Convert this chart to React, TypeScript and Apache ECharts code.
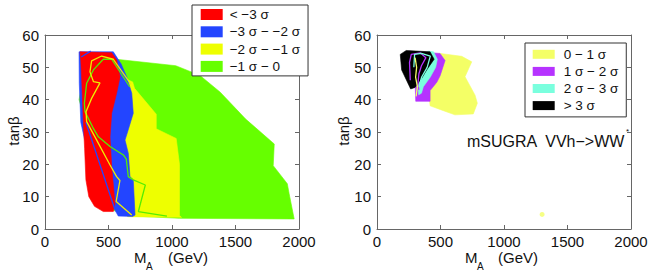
import React, { useEffect, useRef } from "react";
import * as echarts from "echarts";

const FONT = '"Liberation Sans", Arial, Helvetica, sans-serif';

// axis ranges / ticks
const xRange = [0, 2000];
const xInterval = 500;
const yRange = [0, 60];
const yInterval = 10;

// legend names
const leftNames = ["< −3 σ", "−3 σ − −2 σ", "−2 σ − −1 σ", "−1 σ − 0"];
const rightNames = ["0 − 1 σ", "1 σ − 2 σ", "2 σ − 3 σ", "> 3 σ"];

// Left panel regions [M_A, tanβ]
const leftGreen = [
  [268, 40], [300, 47], [330, 52.8], [560, 52.5], [1030, 50.5], [1220, 47.5], [1380, 42.3],
  [1580, 34], [1805, 26.3], [1797, 19.6], [1908, 14], [1922, 11], [1962, 3.1], [1060, 3.3],
  [700, 4], [420, 7], [340, 25], [320, 33],
];
const leftYellow = [
  [600, 47], [690, 45.5], [705, 43.5], [876, 35.5], [876, 31], [1033, 28], [1059, 20],
  [1059, 4.2], [1075, 3.6], [650, 3.8], [600, 10], [580, 30],
];
const leftBlue = [
  [268, 54.8], [538, 54.8], [600, 51], [643, 47.1], [683, 42], [695, 35.8], [650, 30],
  [630, 27.5], [656, 23.4], [669, 16.2], [695, 15.2], [709, 4.3], [690, 3.9], [577, 4],
  [520, 8], [310, 28], [282, 33], [270, 45],
];
const leftRed = [
  [276, 54.8], [525, 54.5], [564, 52.3], [591, 47.1], [564, 42], [525, 35.8], [512, 28.5],
  [525, 19.3], [551, 8], [538, 5.4], [459, 5.4], [390, 7], [345, 10], [322, 15.2],
  [312, 24.8], [300, 34.7], [290, 45], [282, 52],
];
const leftYellowLine = [
  [677, 44.7], [538, 52.5], [446, 53.5], [367, 52], [354, 48.6], [381, 45.6], [433, 45.2],
  [367, 40.4], [323, 36.3], [328, 33.2], [407, 27.5], [512, 19.8], [564, 16.2], [590, 15],
  [560, 8.5], [683, 4.3],
];
const leftGreenLine = [
  [667, 44], [525, 52.5], [459, 52.5], [381, 49.2], [328, 45.1], [310, 38.9], [315, 36.3],
  [381, 31.1], [420, 28.5], [512, 25.5], [617, 22.9], [640, 21.6], [656, 16.2], [695, 15.2],
  [790, 13.6], [735, 5.4], [960, 4],
];
const leftBlueLine = [[322, 33], [549, 6.2]];
const leftBlueLine2 = [[285, 53.2], [360, 55]];

// Right panel regions
const rightYellow = [
  [330, 54], [496, 54.3], [667, 53.4], [746, 51.7], [693, 47.1], [772, 41.4], [790, 38.9],
  [758, 35.6], [614, 35.3], [523, 36.6], [418, 38.1], [400, 45],
];
const rightPurple = [
  [250, 55], [496, 54.3], [536, 52.1], [497, 47.4], [471, 45.4], [418, 42.8], [418, 39.5],
  [305, 39.5], [300, 45], [260, 50],
];
const rightCyan = [
  [400, 55], [445, 54.8], [475, 52.5], [462, 50], [420, 47], [365, 44], [350, 42],
  [328, 41.5], [325, 44], [340, 46],
];
const rightBlack = [
  [183, 54], [230, 55.2], [418, 54.8], [450, 52.5], [391, 49.2], [352, 46.6], [300, 43.8],
  [265, 43.3], [194, 49.2],
];
const rightPurpleLine = [
  [262, 46], [256, 51.5], [270, 54], [340, 54.5], [385, 53], [350, 50.5], [330, 48],
  [322, 45], [330, 43],
];
const rightCyanLine = [
  [290, 50], [296, 54], [350, 54.3], [420, 53.5], [395, 50], [352, 47], [330, 44],
];
const rightYellowLine = [[300, 53], [312, 50], [304, 47], [318, 44], [308, 41]];
const rightDot = [[1300, 4.5]];

const C = {
  red: "#ff0000",
  blue: "#2345ff",
  yellow: "#eeff00",
  green: "#66ff00",
  ry: "#f4ff66",
  purple: "#b633ff",
  cyan: "#7affde",
  black: "#000000",
};

function poly(name: string, pts: number[][], color: string, g: number) {
  return {
    type: "custom",
    name,
    xAxisIndex: g * 2,
    yAxisIndex: g * 2,
    data: pts,
    clip: false,
    silent: true,
    itemStyle: { color },
    renderItem: (params: any, api: any) =>
      params.dataIndex === 0
        ? {
            type: "polygon",
            shape: { points: pts.map((p) => api.coord(p)) },
            style: { fill: color, stroke: color, lineWidth: 0.6 },
          }
        : null,
  };
}

function line(name: string, pts: number[][], color: string, g: number) {
  return {
    type: "line",
    name,
    xAxisIndex: g * 2,
    yAxisIndex: g * 2,
    data: pts,
    symbol: "none",
    showSymbol: false,
    silent: true,
    lineStyle: { color, width: 1.3 },
  };
}

const axisColor = "#666";
const plain = (v: number) => String(v);

function xAxes(g: number) {
  const base = {
    type: "value",
    gridIndex: g,
    min: xRange[0],
    max: xRange[1],
    interval: xInterval,
    splitLine: { show: false },
    axisLine: { show: true, onZero: false, lineStyle: { color: axisColor, width: 1 } },
    axisTick: { show: true, inside: true, length: 4, lineStyle: { color: axisColor } },
  };
  return [
    {
      ...base,
      position: "bottom",
      axisLabel: { fontSize: 15, color: "#111", fontFamily: FONT, margin: 5, formatter: plain },
    },
    { ...base, position: "top", axisLabel: { show: false } },
  ];
}
function yAxes(g: number) {
  const base = {
    type: "value",
    gridIndex: g,
    min: yRange[0],
    max: yRange[1],
    interval: yInterval,
    splitLine: { show: false },
    axisLine: { show: true, onZero: false, lineStyle: { color: axisColor, width: 1 } },
    axisTick: { show: true, inside: true, length: 4, lineStyle: { color: axisColor } },
  };
  return [
    {
      ...base,
      position: "left",
      axisLabel: { fontSize: 15, color: "#111", fontFamily: FONT, margin: 6, formatter: plain },
    },
    { ...base, position: "right", axisLabel: { show: false } },
  ];
}

function txt(text: string, x: number, y: number, size: number, extra: any = {}) {
  const { rotation, ...style } = extra;
  return {
    type: "text",
    x,
    y,
    silent: true,
    rotation: rotation || 0,
    style: { text, fontSize: size, fontFamily: FONT, fill: "#111", verticalAlign: "middle", ...style },
  };
}

export default function App() {
  const ref = useRef<HTMLDivElement>(null);
  useEffect(() => {
    const chart = echarts.init(ref.current!, null, { renderer: "svg" });
    const option: any = {
      animation: false,
      grid: [
        { left: 45, top: 35, width: 254, height: 194 },
        { left: 377, top: 35, width: 254, height: 194 },
      ],
      xAxis: [...xAxes(0), ...xAxes(1)],
      yAxis: [...yAxes(0), ...yAxes(1)],
      legend: [
        {
          data: leftNames,
          orient: "vertical",
          left: 192,
          top: 5,
          icon: "rect",
          itemWidth: 22,
          itemHeight: 11,
          itemGap: 3.3,
          padding: [2.5, 8, 2.5, 8.7],
          borderColor: "#333",
          borderWidth: 1,
          borderRadius: 0,
          backgroundColor: "#fff",
          selectedMode: false,
          textStyle: { fontSize: 13.5, fontFamily: FONT, color: "#111", lineHeight: 14, padding: [0, 0, 0, 2] },
        },
        {
          data: rightNames,
          orient: "vertical",
          left: 525,
          top: 43,
          icon: "rect",
          itemWidth: 22,
          itemHeight: 9,
          itemGap: 3.1,
          padding: [4.3, 8, 4.3, 7.7],
          borderColor: "#333",
          borderWidth: 1,
          borderRadius: 0,
          backgroundColor: "#fff",
          selectedMode: false,
          textStyle: { fontSize: 13.5, fontFamily: FONT, color: "#111", lineHeight: 13, padding: [0, 0, 0, 4] },
        },
      ],
      series: [
        poly(leftNames[3], leftGreen, C.green, 0),
        poly(leftNames[2], leftYellow, C.yellow, 0),
        poly(leftNames[1], leftBlue, C.blue, 0),
        poly(leftNames[0], leftRed, C.red, 0),
        line("bl1", leftBlueLine, C.blue, 0),
        line("bl2", leftBlueLine2, C.blue, 0),
        line("gl", leftGreenLine, "#55ee00", 0),
        line("yl", leftYellowLine, "#eeee00", 0),
        poly(rightNames[0], rightYellow, C.ry, 1),
        poly(rightNames[1], rightPurple, C.purple, 1),
        poly(rightNames[2], rightCyan, C.cyan, 1),
        poly(rightNames[3], rightBlack, C.black, 1),
        line("pl", rightPurpleLine, C.purple, 1),
        line("cl", rightCyanLine, C.cyan, 1),
        line("ryl", rightYellowLine, C.ry, 1),
        {
          type: "scatter",
          name: "dot",
          xAxisIndex: 2,
          yAxisIndex: 2,
          data: rightDot,
          symbolSize: 5,
          silent: true,
          itemStyle: { color: C.ry },
        },
      ],
      graphic: [
        txt("tanβ", 13, 131, 15, { rotation: Math.PI / 2, align: "center" }),
        txt("tanβ", 343, 131, 15, { rotation: Math.PI / 2, align: "center" }),
        txt("M", 134, 257, 15),
        txt("A", 146, 266, 10),
        txt("(GeV)", 168, 257, 15),
        txt("M", 465, 257, 15),
        txt("A", 477, 266, 10),
        txt("(GeV)", 498, 257, 15),
        txt("mSUGRA  VVh−>WW", 467, 141, 16),
        txt("*", 626, 131, 8),
      ],
    };
    chart.setOption(option);
    return () => chart.dispose();
  }, []);
  return (
    <div
      ref={ref}
      style={{ position: "fixed", left: 0, top: 0, width: 654, height: 273, background: "#fff" }}
    />
  );
}
